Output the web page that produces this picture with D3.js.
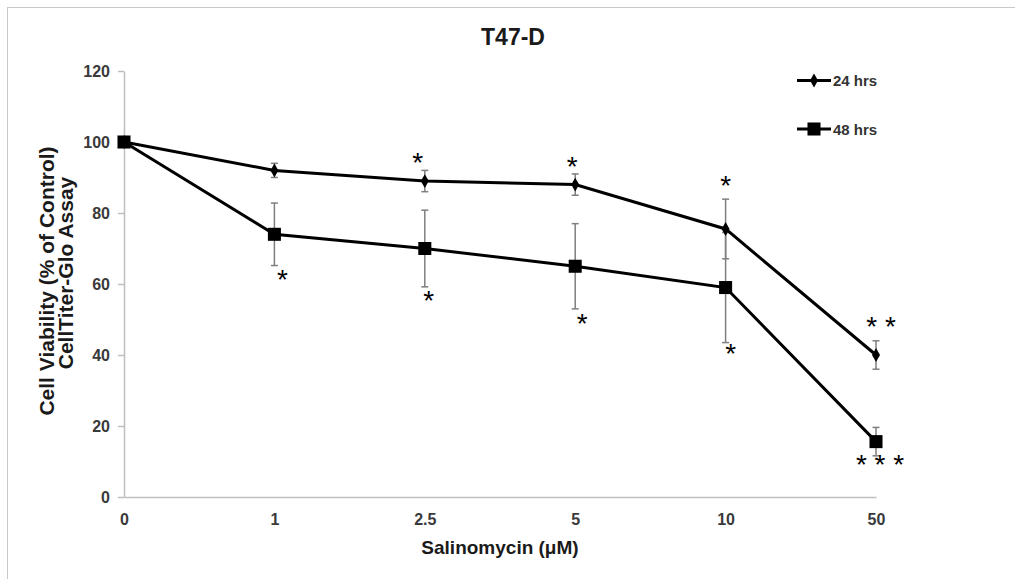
<!DOCTYPE html>
<html>
<head>
<meta charset="utf-8">
<script src="https://cdn.jsdelivr.net/npm/d3@7"></script>
<style>
  body { margin: 0; background: #fff; }
  svg { display: block; font-family: "Liberation Sans", Arial, sans-serif; }
  .axis path, .axis line { stroke: #bfbfbf; stroke-width: 1.5; }
  .axis text { font-size: 16px; font-weight: bold; fill: #3a3a3a; }
</style>
</head>
<body>
<svg width="1015" height="579"></svg>
<script>
// categories on the x axis (Salinomycin, uM)
var doses = ["0", "1", "2.5", "5", "10", "50"];
var yTicks = [0, 20, 40, 60, 80, 100, 120];

// % of control
var hrs24 = [100, 92, 89, 88, 75.5, 40];
var err24 = [0, 2, 3, 3, 8.4, 4];
var hrs48 = [100, 74, 70, 65, 59, 15.6];
var err48 = [0, 8.8, 10.8, 12, 15.5, 4];

// significance marks: dose, y value of the mark, text
var stars24 = [
  { dose: "2.5", y: 96.1, text: "*", dx: -7 },
  { dose: "5", y: 94.9, text: "*", dx: -3 },
  { dose: "10", y: 89.6, text: "*", dx: 0 },
  { dose: "50", y: 49.9, text: "* *", dx: 5 }
];
var stars48 = [
  { dose: "1", y: 63.1, text: "*", dx: 8 },
  { dose: "2.5", y: 57.2, text: "*", dx: 4 },
  { dose: "5", y: 50.7, text: "*", dx: 7 },
  { dose: "10", y: 42.3, text: "*", dx: 5 },
  { dose: "50", y: 11.0, text: "* * *", dx: 4 }
];

var series = [
  { name: "24 hrs", values: hrs24, errors: err24, stars: stars24, shape: d3.symbolDiamond, size: 55 },
  { name: "48 hrs", values: hrs48, errors: err48, stars: stars48, shape: d3.symbolSquare, size: 170 }
];

var svg = d3.select("svg");

// outer frame
svg.append("rect")
  .attr("x", 7.5).attr("y", 7.5)
  .attr("width", 1100).attr("height", 1000)
  .attr("fill", "none")
  .attr("stroke", "#c8c8c8");

var x = d3.scalePoint().domain(doses).range([124, 876]);
var y = d3.scaleLinear().domain([0, 120]).range([497, 71]);

var yAxis = d3.axisLeft(y).tickValues(yTicks).tickSize(6).tickSizeOuter(0).tickPadding(8);
var xAxis = d3.axisBottom(x).tickSize(0).tickSizeOuter(0).tickPadding(17);

svg.append("g")
  .attr("class", "axis")
  .attr("transform", "translate(124,0)")
  .call(yAxis);

svg.append("g")
  .attr("class", "axis")
  .attr("transform", "translate(0," + y(0) + ")")
  .call(xAxis);

// title
svg.append("text")
  .attr("x", 513).attr("y", 45)
  .attr("text-anchor", "middle")
  .style("font-size", "23px").style("font-weight", "bold").style("fill", "#1a1a1a")
  .text("T47-D");

// axis titles
var yLabel = svg.append("g")
  .attr("transform", "translate(0,281) rotate(-90)")
  .style("font-size", "21px").style("font-weight", "bold").style("fill", "#1a1a1a")
  .attr("text-anchor", "middle");
yLabel.append("text").attr("x", 0).attr("y", 54).text("Cell Viability  (% of Control)");
yLabel.append("text").attr("x", 8).attr("y", 73).text("CellTiter-Glo  Assay");

svg.append("text")
  .attr("x", 500).attr("y", 554)
  .attr("text-anchor", "middle")
  .style("font-size", "19px").style("font-weight", "bold").style("fill", "#1a1a1a")
  .text("Salinomycin (\u03bcM)");

var line = d3.line()
  .x(function(d, i) { return x(doses[i]); })
  .y(function(d) { return y(d); });

// error bars
series.forEach(function(s) {
  var g = svg.append("g").attr("stroke", "#7f7f7f").attr("stroke-width", 1.5);
  s.values.forEach(function(v, i) {
    if (!s.errors[i]) return;
    var cx = x(doses[i]);
    var top = y(v + s.errors[i]), bot = y(v - s.errors[i]);
    g.append("line").attr("x1", cx).attr("x2", cx).attr("y1", top).attr("y2", bot);
    g.append("line").attr("x1", cx - 3.5).attr("x2", cx + 3.5).attr("y1", top).attr("y2", top);
    g.append("line").attr("x1", cx - 3.5).attr("x2", cx + 3.5).attr("y1", bot).attr("y2", bot);
  });
});

// lines and markers
series.forEach(function(s) {
  svg.append("path")
    .datum(s.values)
    .attr("fill", "none")
    .attr("stroke", "#000")
    .attr("stroke-width", 3)
    .attr("d", line);

  svg.selectAll(null)
    .data(s.values)
    .enter().append("path")
    .attr("transform", function(d, i) { return "translate(" + x(doses[i]) + "," + y(d) + ")"; })
    .attr("d", d3.symbol().type(s.shape).size(s.size))
    .attr("fill", "#000");

  svg.selectAll(null)
    .data(s.stars)
    .enter().append("text")
    .attr("x", function(d) { return x(d.dose) + d.dx; })
    .attr("y", function(d) { return y(d.y) + 16; })
    .attr("text-anchor", "middle")
    .style("font-size", "28px")
    .style("fill", "#000")
    .text(function(d) { return d.text; });
});

// legend
var legend = svg.append("g")
  .selectAll("g")
  .data(series)
  .enter().append("g")
  .attr("transform", function(d, i) { return "translate(797," + (80.5 + i * 48.5) + ")"; });

legend.append("line")
  .attr("x1", 0).attr("x2", 34)
  .attr("stroke", "#000").attr("stroke-width", 3);

legend.append("path")
  .attr("transform", "translate(17,0)")
  .attr("d", function(d) { return d3.symbol().type(d.shape).size(d.size)(); })
  .attr("fill", "#000");

legend.append("text")
  .attr("x", 36).attr("y", 5.5)
  .style("font-size", "15px").style("font-weight", "bold").style("fill", "#333")
  .text(function(d) { return d.name; });
</script>
</body>
</html>
